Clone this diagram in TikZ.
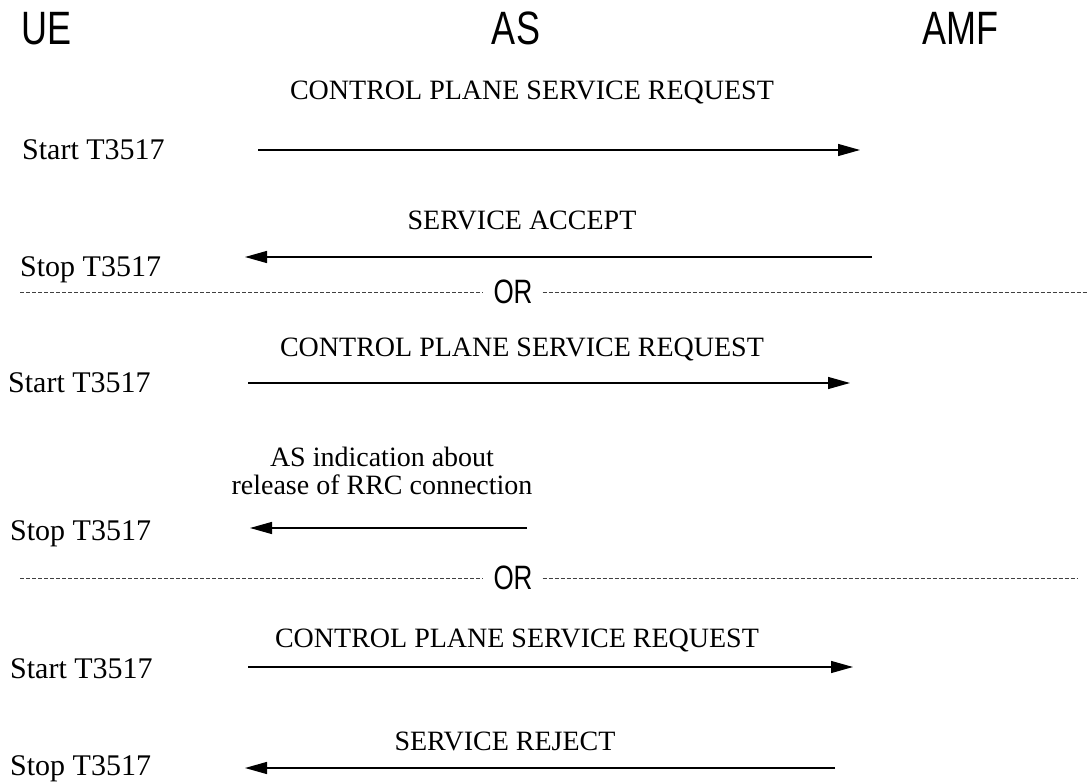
\documentclass[tikz,border=0pt]{standalone}
\usepackage{fontspec}
\setmainfont{Liberation Serif}
\setsansfont{Liberation Sans}
\usetikzlibrary{arrows.meta}
\newcommand{\tallsans}[1]{\scalebox{1}[1.3]{#1}}
\tikzset{
  entity/.style={font=\sffamily\fontsize{36}{40}\selectfont, anchor=base, inner sep=0pt},
  timer/.style={font=\fontsize{30}{34}\selectfont, anchor=base west, inner sep=0pt},
  msgtext/.style={font=\fontsize{28}{28}\selectfont, anchor=base, inner sep=0pt, align=center},
  msg/.style={line width=1.3pt, -{Triangle[length=22pt,width=12pt]}},
  sep/.style={line width=0.8pt, black!75, dash pattern=on 4pt off 2pt},
  ortext/.style={font=\sffamily\fontsize{26}{30}\selectfont, inner sep=10pt}
}
\begin{document}
\begin{tikzpicture}[x=1pt, y=-1pt]
    \useasboundingbox (0,0) rectangle (1087,783);
    % Entities
    \node[entity] (ue) at (47,45) {\tallsans{UE}};
    \node[entity] (as) at (516,45) {\tallsans{AS}};
    \node[entity] (amf) at (960,45) {\tallsans{AMF}};

    % Case 1: service accept
    \node[timer] (start1) at (22,160) {Start T3517};
    \coordinate (m1s) at (258,150);
    \coordinate (m1e) at (860,150);
    \draw[msg] (m1s) -- (m1e);
    \node[msgtext] (cpsr1) at (532,100) {CONTROL PLANE SERVICE REQUEST};

    \node[timer] (stop1) at (20,277) {Stop T3517};
    \coordinate (m2s) at (872,257);
    \coordinate (m2e) at (245,257);
    \draw[msg] (m2s) -- (m2e);
    \node[msgtext] (accept) at (522,230) {SERVICE ACCEPT};

    % First OR
    \node[ortext] (or1) at (513,292) {\tallsans{OR}};
    \coordinate (d1l) at (20,292);
    \coordinate (d1r) at (1087,292);
    \draw[sep] (d1l) -- (or1.west);
    \draw[sep] (or1.east) -- (d1r);

    % Case 2: release of RRC connection
    \node[timer] (start2) at (8,393) {Start T3517};
    \coordinate (m3s) at (248,383);
    \coordinate (m3e) at (850,383);
    \draw[msg] (m3s) -- (m3e);
    \node[msgtext] (cpsr2) at (522,357) {CONTROL PLANE SERVICE REQUEST};

    \node[timer] (stop2) at (10,540) {Stop T3517};
    \coordinate (m4s) at (527,528);
    \coordinate (m4e) at (250,528);
    \draw[msg] (m4s) -- (m4e);
    \node[msgtext] (asind) at (382,494) {AS indication about\\release of RRC connection};

    % Second OR
    \node[ortext] (or2) at (513,578) {\tallsans{OR}};
    \coordinate (d2l) at (20,578);
    \coordinate (d2r) at (1078,578);
    \draw[sep] (d2l) -- (or2.west);
    \draw[sep] (or2.east) -- (d2r);

    % Case 3: service reject
    \node[timer] (start3) at (10,678) {Start T3517};
    \coordinate (m5s) at (248,667);
    \coordinate (m5e) at (853,667);
    \draw[msg] (m5s) -- (m5e);
    \node[msgtext] (cpsr3) at (517,647) {CONTROL PLANE SERVICE REQUEST};

    \node[timer] (stop3) at (10,775) {Stop T3517};
    \coordinate (m6s) at (835,768);
    \coordinate (m6e) at (245,768);
    \draw[msg] (m6s) -- (m6e);
    \node[msgtext] (reject) at (505,750) {SERVICE REJECT};
\end{tikzpicture}
\end{document}
